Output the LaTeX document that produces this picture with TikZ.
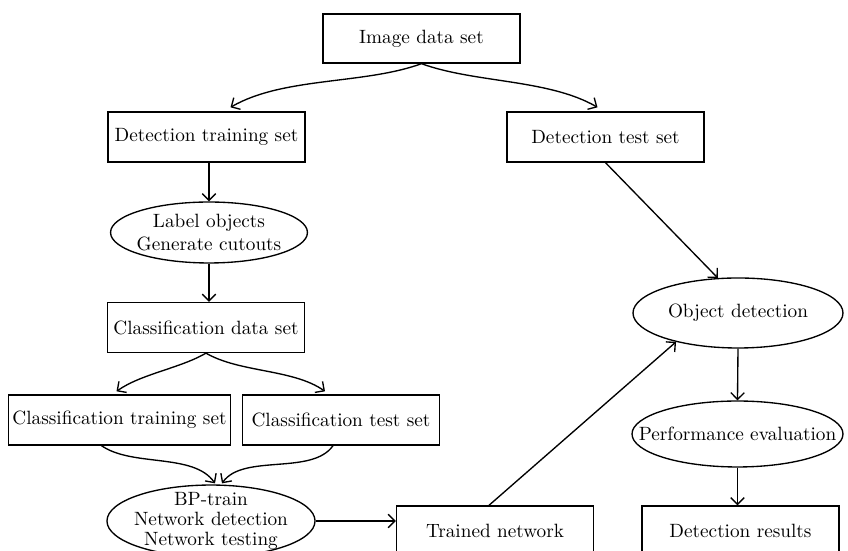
\documentclass[tikz,border=0pt]{standalone}
\usepackage{tikz}
\usetikzlibrary{arrows.meta, positioning, calc, shapes.geometric}

\begin{document}
\begin{tikzpicture}[x=0.52pt, y=0.52pt,
  box/.style={draw, line width=0.7pt, minimum width=102.4pt, minimum height=26pt, inner xsep=2pt},
  oval/.style={draw, ellipse, line width=0.7pt, inner sep=0pt},
  flow/.style={line width=0.7pt, -{Straight Barb[length=3.5pt, width=7pt]}}]
  % page frame, bottom row is cut off as in the figure
  \useasboundingbox (0,0) rectangle (848,551);
  \clip (0,0) rectangle (848,551);

  % boxes
  \node[box, minimum height=25.5pt] (img) at (421.5,512.5) {Image data set};
  \node[box] (dtrain) at (206.5,414) {Detection training set};
  \node[box] (dtest) at (605.5,414) {Detection test set};
  \node[box] (cdata) at (206,223.5) {Classification data set};
  \node[box] (ctrain) at (119.5,131) {Classification training set};
  \node[box] (ctest) at (341,131) {Classification test set};
  \node[box] (trained) at (495,20) {Trained network};
  \node[box] (dres) at (740.5,20) {Detection results};

  % ellipses, text set as a centred label
  \node[oval, minimum width=102.4pt, minimum height=31.7pt,
    label={[align=center]center:Label objects\\Generate cutouts}] (cut) at (209,318.5) {};
  \node[oval, minimum width=108.2pt, minimum height=37.4pt,
    label={[align=center, font=\fontsize{10}{10.4}\selectfont]center:BP-train\\Network detection\\Network testing}] (bp) at (211,30) {};
  \node[oval, minimum width=109.2pt, minimum height=36.4pt,
    label={center:Object detection}] (objdet) at (738,238) {};
  \node[oval, minimum width=109.7pt, minimum height=34.3pt,
    label={center:Performance evaluation}] (perf) at (737.5,117) {};

  % split of the image data
  \draw[flow] (img.south) to[out=200, in=30, looseness=0.8] ($(dtrain.north)+(24,4)$);
  \draw[flow] (img.south) to[out=-20, in=150, looseness=0.8] ($(dtest.north)+(-8,4)$);
  % classification branch
  \draw[flow] (dtrain.south -| cut) -- (cut.north);
  \draw[flow] (cut.south) -- (cut.south |- cdata.north);
  \draw[flow] (cdata.south) to[out=210, in=35, looseness=0.8] ($(ctrain.north)+(-3,3)$);
  \draw[flow] (cdata.south) to[out=-30, in=145, looseness=0.8] ($(ctest.north)+(-16,3)$);
  \draw[flow] ($(ctrain.south)+(-18,0)$) to[out=-35, in=125, looseness=0.8] ($(bp.north)+(4,1)$);
  \draw[flow] ($(ctest.south)+(-8,0)$) to[out=235, in=55, looseness=0.8] ($(bp.north)+(11,1)$);
  \draw[flow] (bp.east) -- (trained.west |- bp.east);
  % detection branch
  \draw[flow] ($(trained.north)+(-6,0)$) -- (objdet.205);
  \draw[flow] (dtest.south) -- (objdet.120);
  \draw[flow] (objdet.south) -- (perf.north);
  \draw[flow] (perf.south) -- (perf.south |- dres.north);
\end{tikzpicture}
\end{document}
